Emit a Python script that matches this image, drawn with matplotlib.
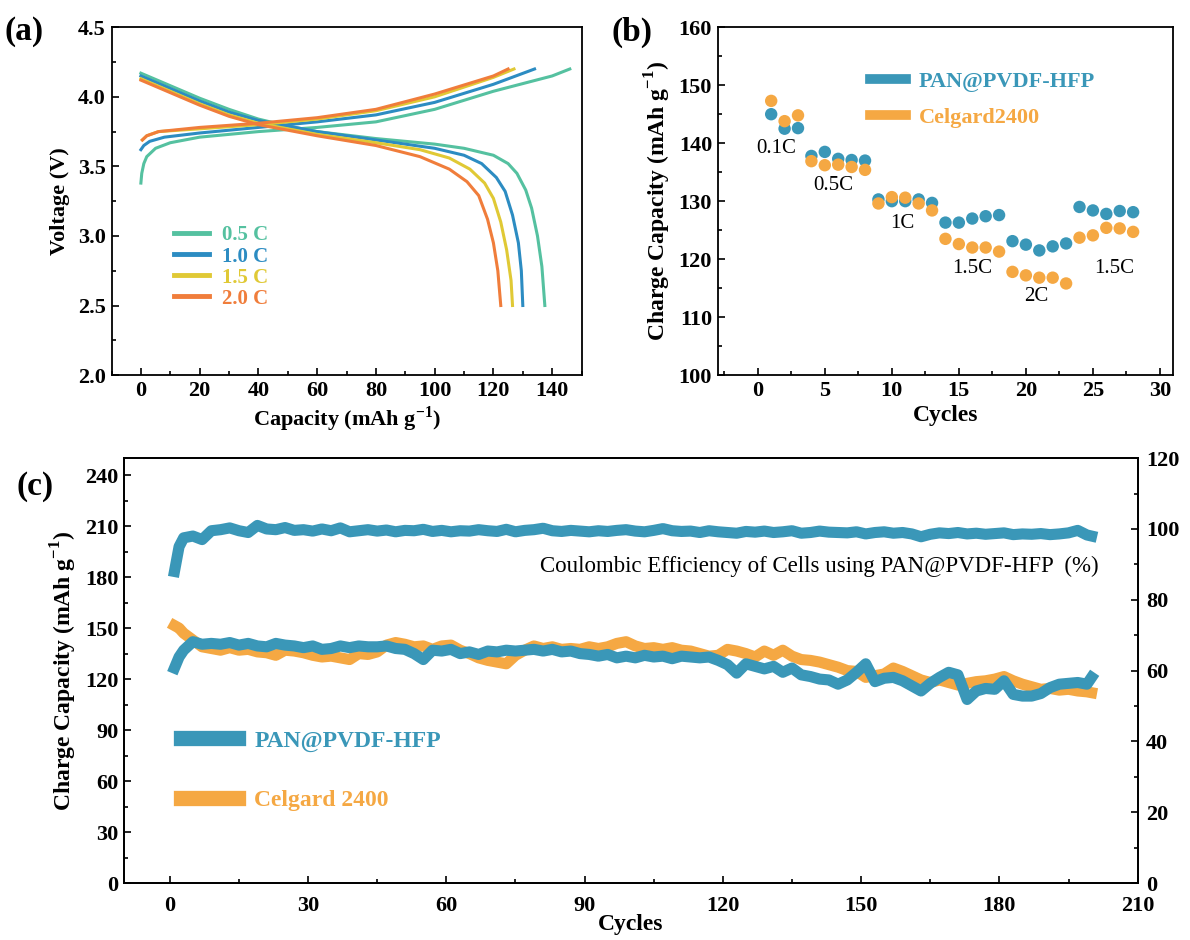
import matplotlib
matplotlib.use("Agg")
from matplotlib import pyplot as plt
from matplotlib.lines import Line2D
from matplotlib.ticker import MultipleLocator

plt.rcParams["font.family"] = ["Liberation Serif", "DejaVu Serif"]
plt.rcParams["mathtext.fontset"] = "custom"
plt.rcParams["mathtext.rm"] = "Liberation Serif"
plt.rcParams["mathtext.bf"] = "Liberation Serif:bold"
plt.rcParams["axes.linewidth"] = 1.3

# colours
C05 = "#55c1a0"
C10 = "#2c8cc2"
C15 = "#e0c935"
C20 = "#f07d3b"
BLUE = "#3a97b8"
ORANGE = "#f5a843"

# ---- panel (a): charge / discharge profiles ----
RATE_LABELS = ["0.5 C", "1.0 C", "1.5 C", "2.0 C"]

CAP_CHG_05 = [0, 0.3, 1, 2, 5, 10, 20, 40, 60, 80, 100, 120, 140, 146]
V_CHG_05 = [3.38, 3.45, 3.52, 3.57, 3.63, 3.67, 3.71, 3.75, 3.78, 3.82, 3.91, 4.04, 4.15, 4.20]
CAP_CHG_10 = [0, 1, 3, 8, 20, 40, 60, 80, 100, 120, 134]
V_CHG_10 = [3.62, 3.65, 3.68, 3.71, 3.74, 3.78, 3.82, 3.87, 3.96, 4.09, 4.20]
CAP_CHG_15 = [0.5, 2, 6, 20, 40, 60, 80, 100, 120, 127]
V_CHG_15 = [3.69, 3.72, 3.75, 3.77, 3.80, 3.84, 3.90, 4.00, 4.14, 4.20]
CAP_CHG_20 = [0.5, 2, 6, 20, 40, 60, 80, 100, 120, 125]
V_CHG_20 = [3.69, 3.72, 3.75, 3.78, 3.81, 3.85, 3.91, 4.02, 4.15, 4.20]

CAP_DIS_05 = [0, 10, 20, 30, 40, 50, 60, 80, 100, 110, 120, 125, 128, 131, 133, 135, 136.5, 137.5]
V_DIS_05 = [4.17, 4.08, 3.99, 3.91, 3.84, 3.79, 3.75, 3.70, 3.66, 3.63, 3.58, 3.52, 3.45, 3.33, 3.20, 3.00, 2.78, 2.50]
CAP_DIS_10 = [0, 10, 20, 30, 40, 60, 80, 100, 110, 116, 121, 124, 126.5, 128.5, 129.5, 130]
V_DIS_10 = [4.15, 4.06, 3.97, 3.89, 3.83, 3.75, 3.69, 3.63, 3.58, 3.52, 3.42, 3.32, 3.15, 2.95, 2.75, 2.50]
CAP_DIS_15 = [0, 10, 20, 30, 40, 60, 80, 95, 105, 112, 117, 120, 122.5, 124.5, 126, 126.5]
V_DIS_15 = [4.13, 4.04, 3.95, 3.87, 3.81, 3.73, 3.67, 3.62, 3.56, 3.48, 3.38, 3.27, 3.10, 2.90, 2.68, 2.50]
CAP_DIS_20 = [0, 10, 20, 30, 40, 60, 80, 95, 105, 111, 115, 118, 120, 121.5, 122.5]
V_DIS_20 = [4.12, 4.03, 3.94, 3.86, 3.80, 3.72, 3.65, 3.57, 3.48, 3.39, 3.29, 3.12, 2.95, 2.75, 2.50]

# ---- panel (b): rate capability ----
RATE_CYCLES = list(range(1, 29))
RATE_PAN = [145.0, 142.5, 142.6, 137.8, 138.5, 137.3, 137.1, 137.0,
            130.3, 130.0, 130.0, 130.3, 129.7,
            126.3, 126.3, 127.0, 127.4, 127.6,
            123.1, 122.5, 121.5, 122.2, 122.7,
            129.0, 128.4, 127.8, 128.3, 128.1]
RATE_CEL = [147.3, 143.8, 144.8, 136.9, 136.2, 136.3, 135.9, 135.4,
            129.6, 130.7, 130.6, 129.6, 128.4,
            123.5, 122.6, 122.0, 122.0, 121.3,
            117.8, 117.2, 116.8, 116.8, 115.8,
            123.7, 124.1, 125.4, 125.3, 124.7]
RATE_TEXT = ["0.1C", "0.5C", "1C", "1.5C", "2C", "1.5C"]
RATE_TEXT_X = [1.4, 5.6, 10.8, 16.0, 20.8, 26.6]
RATE_TEXT_Y = [139.0, 132.7, 126.1, 118.4, 113.5, 118.4]

# ---- panel (c): long cycling ----
CYC = [1, 2] + list(range(3, 200, 2)) + [200]
CAP_PAN = [126.5, 133, 137, 142, 140.5, 141, 140.5, 141.5, 140, 141,
           139.5, 139, 141, 140, 139.5, 138.5, 139.5, 137.5, 138, 139.5,
           138.5, 139.5, 139, 139, 139.5, 138, 137.5, 135, 131.5, 137,
           136.5, 137.5, 135, 136, 134.5, 136.5, 136, 137, 136.5, 137,
           137.5, 136.5, 137.5, 136, 136.5, 135, 134.5, 133.5, 134.5, 132.5,
           133.5, 132.5, 134, 133, 133.5, 132, 133.5, 133, 132.5, 133,
           131, 128.5, 123.5, 129, 127.5, 126, 127.5, 124, 126.5, 122.5,
           121.5, 120, 119.5, 117, 119.5, 124, 129, 118.5, 120.5, 121,
           119, 116, 113, 117.5, 121, 124, 122.5, 108, 113, 114.5,
           114, 119, 111, 110, 110, 111.5, 115, 117, 117.5, 118,
           117, 121]
CAP_CEL = [151.5, 150, 147, 143, 139, 138, 137, 138.5, 137, 137.5,
           136, 135.5, 134, 137, 136.5, 135.5, 134, 133, 133.5, 132.5,
           131.5, 135, 134.5, 136, 140, 141.5, 140.5, 139, 139.5, 137.5,
           139.5, 140, 137, 135, 132.5, 131, 130, 129, 134, 137,
           139.5, 138, 139, 137.5, 138, 137.5, 139, 138, 139, 141,
           142, 139.5, 138, 138.5, 137.5, 138.5, 137, 136.5, 135, 133.5,
           134, 137.5, 136.5, 135, 133, 136.5, 134, 137, 133.5, 131.5,
           131, 130, 128.5, 127, 125, 124.5, 121, 122, 123, 126.5,
           124.5, 122, 119.5, 118, 119.5, 118, 116.5, 117.5, 118.5, 119,
           120, 121.5, 119, 117, 115.5, 114, 114.5, 113.5, 114, 113,
           112.5, 112]
CE_PAN = [88, 95, 97.5, 98, 97, 99.5, 99.8, 100.3, 99.5, 99,
          101, 100, 99.8, 100.4, 99.6, 99.8, 99.4, 100, 99.5, 100.3,
          99.2, 99.5, 99.8, 99.4, 99.7, 99.2, 99.6, 99.5, 99.9, 99.3,
          99.6, 99.2, 99.5, 99.4, 99.8, 99.5, 99.3, 99.9, 99.2, 99.6,
          99.8, 100.2, 99.5, 99.3, 99.6, 99.4, 99.2, 99.5, 99.3, 99.6,
          99.8, 99.4, 99.2, 99.6, 100.1, 99.5, 99.3, 99.4, 99.0, 99.5,
          99.2, 99.0, 98.8, 99.3, 99.1, 99.4, 99.0, 99.2, 99.5, 98.8,
          99.0, 99.4, 99.1, 99.0, 98.9, 99.2, 98.6, 99.0, 99.2, 98.8,
          99.0, 98.6, 97.8, 98.5, 98.9, 98.7, 99.0, 98.6, 98.8, 98.5,
          98.7, 98.9, 98.4, 98.6, 98.5, 98.7, 98.4, 98.6, 98.9, 99.6,
          98.3, 98.0]


def style_axis(ax, size=16, pad=4):
    ax.tick_params(which="both", direction="in", top=False, right=False,
                   labelsize=size, width=1.2, pad=pad)
    ax.tick_params(which="major", length=5)
    ax.tick_params(which="minor", length=3)
    for lab in ax.get_xticklabels() + ax.get_yticklabels():
        lab.set_fontweight("bold")


fig = plt.figure(figsize=(11.9, 9.4), dpi=100)

# (a)
ax_a = fig.add_axes([0.0937, 0.601, 0.395, 0.370])
charge = [(CAP_CHG_05, V_CHG_05), (CAP_CHG_10, V_CHG_10),
          (CAP_CHG_15, V_CHG_15), (CAP_CHG_20, V_CHG_20)]
discharge = [(CAP_DIS_05, V_DIS_05), (CAP_DIS_10, V_DIS_10),
             (CAP_DIS_15, V_DIS_15), (CAP_DIS_20, V_DIS_20)]
colors_a = [C05, C10, C15, C20]
for (cx, cy), (dx, dy), col in zip(charge, discharge, colors_a):
    ax_a.plot(cx, cy, color=col, lw=2.2, solid_joinstyle="round")
    ax_a.plot(dx, dy, color=col, lw=2.2, solid_joinstyle="round")
ax_a.set_xlim(-10, 150)
ax_a.set_ylim(2.0, 4.5)
ax_a.xaxis.set_major_locator(MultipleLocator(20))
ax_a.xaxis.set_minor_locator(MultipleLocator(10))
ax_a.yaxis.set_minor_locator(MultipleLocator(0.25))
ax_a.set_yticks([2.0, 2.5, 3.0, 3.5, 4.0, 4.5])
ax_a.set_yticklabels(["2.0", "2.5", "3.0", "3.5", "4.0", "4.5"])
style_axis(ax_a)
ax_a.set_xlabel(r"Capacity (mAh g$^{\mathbf{-1}}$)", fontsize=16, fontweight="bold", labelpad=3)
ax_a.set_ylabel("Voltage (V)", fontsize=16, fontweight="bold", labelpad=6)
h_a = [Line2D([], [], color=c, lw=3.5) for c in colors_a]
ax_a.legend(h_a, RATE_LABELS, loc="upper left", bbox_to_anchor=(0.11, 0.46),
            frameon=False, labelcolor=colors_a, handlelength=1.7,
            handletextpad=0.6, labelspacing=0.05, borderpad=0,
            prop={"weight": "bold", "size": 15})

# (b)
ax_b = fig.add_axes([0.603, 0.601, 0.383, 0.370])
ax_b.scatter(RATE_CYCLES, RATE_PAN, s=80, color=BLUE, edgecolors="none", zorder=3)
ax_b.scatter(RATE_CYCLES, RATE_CEL, s=80, color=ORANGE, edgecolors="none", zorder=4)
for t, x, y in zip(RATE_TEXT, RATE_TEXT_X, RATE_TEXT_Y):
    ax_b.text(x, y, t, fontsize=15, ha="center", va="center")
ax_b.set_xlim(-3, 31)
ax_b.set_ylim(100, 160)
ax_b.xaxis.set_major_locator(MultipleLocator(5))
ax_b.xaxis.set_minor_locator(MultipleLocator(2.5))
ax_b.yaxis.set_major_locator(MultipleLocator(10))
ax_b.yaxis.set_minor_locator(MultipleLocator(5))
style_axis(ax_b)
ax_b.set_xlabel("Cycles", fontsize=17, fontweight="bold", labelpad=3)
ax_b.set_ylabel(r"Charge Capacity (mAh g$^{\mathbf{-1}}$)", fontsize=17, fontweight="bold", labelpad=4)
h_b = [Line2D([], [], color=BLUE, lw=7), Line2D([], [], color=ORANGE, lw=7)]
ax_b.legend(h_b, ["PAN@PVDF-HFP", "Celgard2400"], loc="upper left",
            bbox_to_anchor=(0.31, 0.905), frameon=False, labelcolor=[BLUE, ORANGE],
            handlelength=1.6, handletextpad=0.6, labelspacing=0.7, borderpad=0,
            prop={"weight": "bold", "size": 16})

# (c)
ax_c = fig.add_axes([0.104, 0.0606, 0.852, 0.452])
ax_c.plot(CYC, CAP_CEL, color=ORANGE, lw=8, solid_joinstyle="round", zorder=2)
ax_c.plot(CYC, CAP_PAN, color=BLUE, lw=8, solid_joinstyle="round", zorder=3)
ax_c.set_xlim(-10, 210)
ax_c.set_ylim(0, 250)
ax_c.xaxis.set_major_locator(MultipleLocator(30))
ax_c.xaxis.set_minor_locator(MultipleLocator(15))
ax_c.yaxis.set_major_locator(MultipleLocator(30))
ax_c.yaxis.set_minor_locator(MultipleLocator(15))
style_axis(ax_c, size=16)
ax_c.tick_params(axis="x", pad=9)
ax_c.set_xlabel("Cycles", fontsize=17, fontweight="bold", labelpad=-1)
ax_c.set_ylabel(r"Charge Capacity (mAh g$^{\mathbf{-1}}$)", fontsize=17, fontweight="bold", labelpad=4)

ax_ce = ax_c.twinx()
ax_ce.plot(CYC, CE_PAN, color=BLUE, lw=8, solid_joinstyle="round")
ax_ce.set_ylim(0, 120)
ax_ce.yaxis.set_major_locator(MultipleLocator(20))
ax_ce.yaxis.set_minor_locator(MultipleLocator(10))
ax_ce.tick_params(which="both", direction="in", labelsize=16, width=1.2, pad=6)
ax_ce.tick_params(which="major", length=5)
ax_ce.tick_params(which="minor", length=3)
for lab in ax_ce.get_yticklabels():
    lab.set_fontweight("bold")
ax_c.text(201.5, 186.5, "Coulombic Efficiency of Cells using PAN@PVDF-HFP  (%)",
          fontsize=16.5, ha="right", va="center")
h_c = [Line2D([], [], color=BLUE, lw=11), Line2D([], [], color=ORANGE, lw=11)]
ax_c.legend(h_c, ["PAN@PVDF-HFP", "Celgard 2400"], loc="center left",
            bbox_to_anchor=(0.045, 0.265), frameon=False, labelcolor=[BLUE, ORANGE],
            handlelength=2.4, handletextpad=0.7, labelspacing=1.6, borderpad=0,
            prop={"weight": "bold", "size": 17})

fig.text(0.004, 0.966, "(a)", fontsize=24, fontweight="bold", va="center")
fig.text(0.514, 0.966, "(b)", fontsize=24, fontweight="bold", va="center")
fig.text(0.014, 0.482, "(c)", fontsize=24, fontweight="bold", va="center")

fig.savefig("out.png", dpi=100)
